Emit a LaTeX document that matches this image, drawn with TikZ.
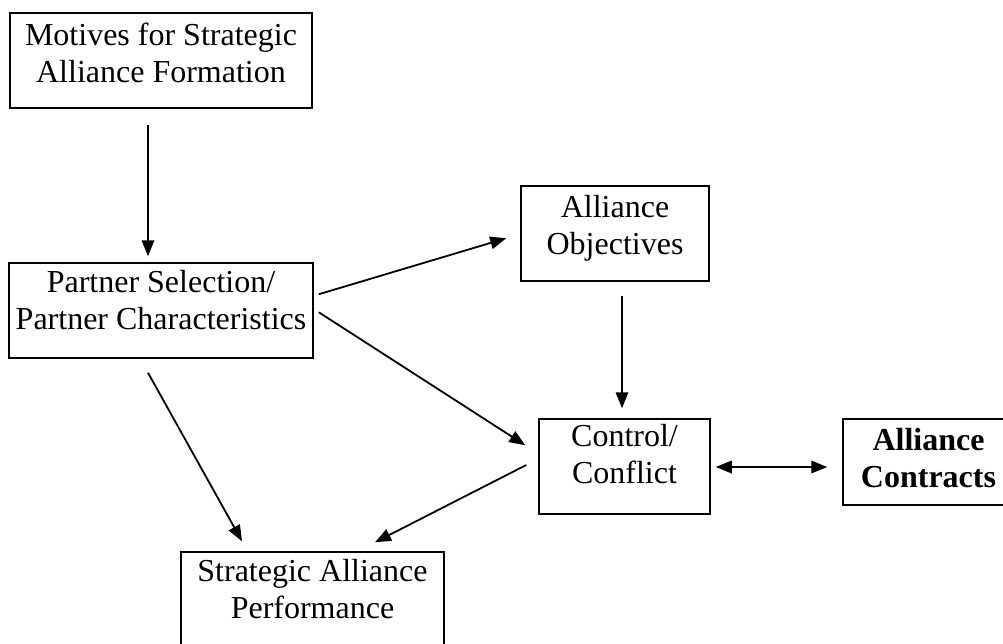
\documentclass[tikz,border=0pt]{standalone}
\usepackage{fontspec}
\setmainfont{Liberation Serif}
\usetikzlibrary{calc,arrows.meta}
\tikzset{
  frame/.style={draw, line width=1.5pt, inner sep=0pt, rectangle},
  lbl/.style={font=\fontsize{32}{37}\selectfont, align=center, inner sep=0pt, anchor=north},
  arr/.style={line width=1.8pt, -{Triangle[length=16pt,width=12.5pt]}},
  darr/.style={line width=1.8pt, {Triangle[length=16pt,width=12.5pt]}-{Triangle[length=16pt,width=12.5pt]}},
}
\begin{document}
\begin{tikzpicture}[x=1pt,y=-1pt]
\useasboundingbox (0,0) rectangle (1003,643);
\clip (0,0) rectangle (1003,643);

% boxes
\node[frame, minimum width=302pt, minimum height=95pt] (mot) at (161,60.5) {};
\node[frame, minimum width=304pt, minimum height=95pt] (par) at (161,310.5) {};
\node[frame, minimum width=188pt, minimum height=95pt] (obj) at (615,233.5) {};
\node[frame, minimum width=171pt, minimum height=95pt] (ctl) at (624.5,466.5) {};
\node[frame, minimum width=171pt, minimum height=86pt] (con) at (928.5,462) {};
\node[frame, minimum width=263pt, minimum height=95pt] (perf) at (312.5,599.5) {};

% box texts
\node[lbl] (motT) at ($(mot.north)+(0,11)$) {Motives for Strategic\\Alliance Formation};
\node[lbl] (parT) at ($(par.north)+(0,8)$) {Partner Selection/\\Partner Characteristics};
\node[lbl] (objT) at ($(obj.north)+(0,10)$) {Alliance\\Objectives};
\node[lbl] (ctlT) at ($(ctl.north)+(0,6)$) {Control/\\Conflict};
\node[lbl, font=\fontsize{32}{37}\selectfont\bfseries] (conT) at ($(con.north)+(0,10)$) {Alliance\\Contracts};
\node[lbl] (perfT) at ($(perf.north)+(0,8)$) {Strategic Alliance\\Performance};

% connectors
\draw[arr] ($(mot.south)+(-13,16)$) -- ($(par.north)+(-13,-6)$);
\draw[arr] ($(par.north east)+(5,32)$) -- ($(obj.north west)+(-14,53)$);
\draw[arr] ($(par.north east)+(5,50)$) -- ($(ctl.north west)+(-13,27)$);
\draw[arr] ($(obj.south)+(7,14)$) -- ($(ctl.north)+(-2.5,-10)$);
\draw[arr] ($(par.south)+(-13,14)$) -- ($(perf.north)+(-70.5,-10)$);
\draw[arr] ($(ctl.west)+(-12,-1.5)$) -- ($(perf.north)+(62.5,-9)$);
\draw[darr] ($(ctl.east)+(5,0.5)$) -- ($(con.west)+(-15,5)$);
\end{tikzpicture}
\end{document}
